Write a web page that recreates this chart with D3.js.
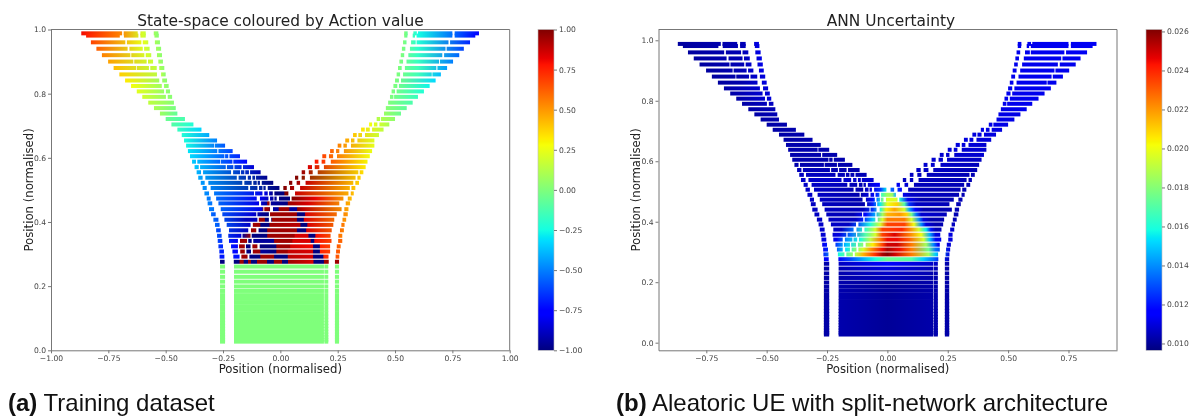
<!DOCTYPE html>
<html>
<head>
<meta charset="utf-8">
<title>State-space and ANN uncertainty</title>
<script src="https://d3js.org/d3.v7.min.js"></script>
<style>
  html, body { margin: 0; padding: 0; background: #fff; }
  svg { display: block; filter: blur(0.3px); }
  .tick text { font-family: "DejaVu Sans", sans-serif; font-size: 7.6px; fill: #444; }
  .tick line, .domain { stroke: #777; stroke-width: 1; }
  .label { font-family: "DejaVu Sans", sans-serif; font-size: 11.7px; fill: #222; text-anchor: middle; }
  .title { font-family: "DejaVu Sans", sans-serif; font-size: 15.4px; fill: #222; text-anchor: middle; }
  .caption { font-family: "Liberation Sans", sans-serif; font-size: 24px; fill: #111; }
  .marks { filter: blur(0.25px); }
</style>
</head>
<body>
<div id="chart"></div>

<script>

// rows of the state-space scatter, top to bottom
var rowY = [.988,.981,.960,.940,.920,.900,.880,.860,.841,.824,.807,.790,.772,.755,.738,.721,.704,.688,.671,.654,.638,.621,.605,.588,.571,.555,.538,.522,.506,.489,.473,.458,.44,.424,.407,.391,.374,.357,.341,.324,.308,.292,.276];

// runs of points in each row [from, to]
var rowSegments = [
  [[-.868,-.69],[-.683,-.622],[-.61,-.587],[-.552,-.532],[.54,.555],[.58,.595],[.60,.75],[.76,.866]],
  [[-.847,-.70],[-.682,-.619],[-.61,-.587],[-.549,-.53],[.54,.554],[.577,.587],[.594,.75],[.76,.85]],
  [[-.826,-.676],[-.669,-.606],[-.60,-.576],[-.547,-.525],[.535,.55],[.57,.59],[.594,.733],[.74,.827]],
  [[-.802,-.666],[-.658,-.60],[-.594,-.57],[-.542,-.52],[.53,.545],[.565,.72],[.725,.80]],
  [[-.778,-.654],[-.65,-.593],[-.587,-.563],[-.538,-.516],[.525,.54],[.558,.706],[.714,.78]],
  [[-.751,-.641],[-.637,-.583],[-.577,-.555],[-.532,-.512],[.519,.535],[.55,.692],[.696,.753]],
  [[-.727,-.629],[-.626,-.573],[-.567,-.539],[-.528,-.506],[.513,.529],[.543,.68],[.685,.727]],
  [[-.702,-.538],[-.52,-.50],[.507,.522],[.535,.66],[.663,.70]],
  [[-.677,-.528],[-.515,-.494],[.50,.517],[.526,.677]],
  [[-.651,-.517],[-.507,-.487],[.493,.51],[.517,.651]],
  [[-.626,-.507],[-.499,-.481],[.485,.50],[.507,.626]],
  [[-.602,-.499],[-.491,-.472],[.478,.493],[.496,.60]],
  [[-.576,-.464],[.47,.577]],
  [[-.551,-.456],[.46,.551]],
  [[-.525,-.449],[.452,.526]],
  [[-.50,-.416],[.42,.435],[.439,.50]],
  [[-.475,-.379],[.387,.40],[.408,.423],[.432,.475]],
  [[-.449,-.344],[.352,.368],[.373,.39],[.40,.45]],
  [[-.43,-.31],[.317,.333],[.34,.356],[.369,.43]],
  [[-.42,-.276],[.283,.30],[.308,.323],[.336,.41]],
  [[-.411,-.289],[-.286,-.241],[.25,.266],[.275,.29],[.308,.41]],
  [[-.403,-.275],[-.27,-.208],[.217,.233],[.243,.257],[.277,.40]],
  [[-.394,-.244],[-.241,-.227],[-.222,-.176],[.183,.20],[.212,.23],[.247,.39]],
  [[-.385,-.368],[-.362,-.263],[-.26,-.209],[-.205,-.145],[.15,.166],[.18,.196],[.22,.38]],
  [[-.374,-.356],[-.35,-.238],[-.233,-.205],[-.2,-.169],[-.163,-.115],[.12,.138],[.15,.17],[.19,.372]],
  [[-.365,-.346],[-.337,-.215],[-.206,-.176],[-.172,-.157],[-.153,-.137],[-.132,-.086],[.093,.108],[.124,.141],[.163,.34],[.346,.362]],
  [[-.358,-.339],[-.327,-.19],[-.182,-.15],[-.142,-.128],[-.122,-.11],[-.106,-.057],[.064,.078],[.093,.107],[.129,.328],[.336,.35]],
  [[-.347,-.33],[-.314,-.166],[-.157,-.125],[-.118,-.103],[-.099,-.089],[-.081,-.031],[.038,.052],[.071,.086],[.11,.318],[.327,.343]],
  [[-.339,-.321],[-.304,-.14],[-.132,-.10],[-.093,-.078],[-.074,-.064],[-.055,-.004],[.013,.028],[.042,.06],[.086,.303],[.31,.327]],
  [[-.331,-.311],[-.289,-.115],[-.11,-.078],[-.07,-.055],[-.049,-.033],[-.026,.035],[.064,.297],[.307,.32]],
  [[-.321,-.304],[-.28,-.103],[-.089,-.052],[-.045,-.03],[-.026,-.016],[-.006,.042],[.049,.275],[.294,.311]],
  [[-.317,-.297],[-.27,-.093],[-.084,-.047],[-.042,.257],[.285,.304]],
  [[-.311,-.289],[-.26,-.074],[-.07,-.045],[-.032,.267],[.279,.297]],
  [[-.302,-.282],[-.253,-.105],[-.10,-.05],[-.045,.246],[.275,.294]],
  [[-.292,-.27],[-.244,-.10],[-.094,-.05],[-.04,.235],[.271,.287]],
  [[-.285,-.265],[-.234,-.13],[-.12,.231],[.266,.28]],
  [[-.28,-.26],[-.224,-.14],[-.128,-.105],[-.095,.224],[.26,.277]],
  [[-.276,-.256],[-.227,-.17],[-.165,-.13],[-.125,.219],[.253,.27]],
  [[-.273,-.253],[-.224,-.185],[-.176,-.145],[-.14,-.125],[-.118,.223],[.252,.27]],
  [[-.27,-.25],[-.215,-.185],[-.18,-.155],[-.15,-.13],[-.122,-.1],[-.09,.217],[.246,.263]],
  [[-.266,-.246],[-.209,-.185],[-.175,-.155],[-.148,-.128],[-.12,.217],[.243,.26]],
  [[-.265,-.244],[-.205,-.178],[-.17,-.143],[-.135,.21],[.241,.257]],
  [[-.263,-.243],[-.203,.211],[.238,.256]]
];

// action value along each row [position, value]
var actionStops = [
  [[-.868,.8],[-.7,.55],[-.6,.2],[-.53,.02],[.54,0],[.6,-.25],[.76,-.55],[.866,-.78]],
  [[-.847,.76],[-.7,.55],[-.6,.2],[-.53,.02],[.54,0],[.6,-.25],[.76,-.55],[.85,-.74]],
  [[-.826,.68],[-.6,.25],[-.525,.03],[.535,0],[.6,-.22],[.827,-.68]],
  [[-.802,.62],[-.6,.22],[-.52,.03],[.53,0],[.6,-.2],[.8,-.62]],
  [[-.778,.55],[-.58,.2],[-.516,.03],[.525,0],[.6,-.18],[.78,-.55]],
  [[-.751,.48],[-.56,.18],[-.512,.03],[.519,0],[.6,-.17],[.753,-.5]],
  [[-.727,.42],[-.54,.15],[-.506,.03],[.513,0],[.6,-.15],[.727,-.44]],
  [[-.702,.38],[-.52,.13],[-.5,.02],[.507,0],[.6,-.15],[.7,-.38]],
  [[-.677,.32],[-.494,.03],[.5,0],[.677,-.32]],
  [[-.651,.27],[-.487,.03],[.493,0],[.651,-.27]],
  [[-.626,.23],[-.481,.02],[.485,0],[.626,-.22]],
  [[-.602,.19],[-.472,.02],[.478,0],[.6,-.17]],
  [[-.576,.15],[-.464,.02],[.47,0],[.577,-.12]],
  [[-.551,.1],[-.456,-.02],[.46,.02],[.551,-.08]],
  [[-.525,.07],[-.449,-.07],[.452,.06],[.526,-.05]],
  [[-.5,-.05],[-.416,-.13],[.42,.13],[.5,.04]],
  [[-.475,-.1],[-.379,-.22],[.387,.28],[.475,.1]],
  [[-.449,-.17],[-.344,-.33],[.352,.33],[.45,.15]],
  [[-.43,-.22],[-.31,-.42],[.317,.4],[.43,.18]],
  [[-.42,-.24],[-.276,-.5],[.283,.47],[.41,.22]],
  [[-.411,-.26],[-.241,-.58],[.25,.55],[.41,.24]],
  [[-.403,-.3],[-.208,-.62],[.217,.62],[.4,.25]],
  [[-.394,-.32],[-.176,-.68],[.183,.68],[.39,.27]],
  [[-.385,-.35],[-.145,-.75],[.15,.78],[.38,.3]],
  [[-.374,-.36],[-.115,-.85],[.12,.85],[.372,.32]],
  [[-.365,-.4],[-.084,-.92],[.093,.95],[.362,.35]],
  [[-.358,-.42],[-.057,-.97],[.064,1],[.35,.38]],
  [[-.347,-.45],[-.031,-1],[.038,1],[.11,.88],[.343,.38]],
  [[-.339,-.47],[-.004,-1],[.013,1],[.086,.88],[.327,.4]],
  [[-.331,-.47],[-.07,-.82],[-.026,-1],[.015,-1],[.02,1],[.035,1],[.064,.87],[.32,.42]],
  [[-.321,-.5],[-.09,-.8],[-.006,-1],[.042,-1],[.049,1],[.15,.82],[.311,.42]],
  [[-.317,-.5],[-.1,-.82],[-.06,-.95],[-.055,.95],[-.045,.95],[-.04,-.95],[.03,-1],[.035,.95],[.12,.85],[.304,.45]],
  [[-.311,-.5],[-.08,-.82],[-.074,.95],[-.052,.95],[-.032,-.95],[-.009,-.95],[-.006,.95],[.035,.95],[.042,-.95],[.071,-.95],[.075,.98],[.1,.9],[.297,.47]],
  [[-.302,-.55],[-.12,-.85],[-.08,-.97],[-.05,-1],[-.045,.95],[.07,.95],[.075,-1],[.105,-1],[.11,.85],[.294,.5]],
  [[-.292,-.55],[-.15,-.9],[-.1,-.9],[-.098,.95],[-.07,.95],[-.065,-1],[-.04,-1],[-.035,.95],[.07,.95],[.075,-1],[.1,-1],[.105,.85],[.287,.5]],
  [[-.285,-.55],[-.13,-.88],[-.12,.95],[-.09,.95],[-.085,-1],[-.05,-1],[-.045,.95],[.085,.9],[.09,-1],[.115,-1],[.12,.85],[.28,.55]],
  [[-.28,-.6],[-.14,-.9],[-.128,.95],[-.105,.95],[-.095,-1],[-.06,-1],[-.055,.95],[.07,.95],[.075,-1],[.11,-1],[.115,.85],[.277,.55]],
  [[-.276,-.6],[-.17,-.85],[-.165,-.95],[-.13,.95],[-.125,-1],[-.06,-1],[-.055,.95],[.06,.95],[.065,.85],[.12,.85],[.125,-1],[.15,-1],[.155,.8],[.27,.55]],
  [[-.273,-.62],[-.185,-.8],[-.176,.95],[-.145,.95],[-.14,-1],[-.118,-.95],[-.03,-.95],[-.025,.95],[.05,.95],[.055,.85],[.13,.85],[.135,-1],[.145,-1],[.15,.8],[.27,.6]],
  [[-.27,-.65],[-.185,-.75],[-.18,.95],[-.155,.95],[-.15,-1],[-.13,-1],[-.122,.95],[-.1,.95],[-.09,-1],[-.02,-1],[-.015,.95],[.04,.95],[.045,.85],[.14,.8],[.145,-1],[.17,-1],[.175,.75],[.263,.6]],
  [[-.266,-.68],[-.185,-.75],[-.175,.95],[-.155,.95],[-.148,-1],[-.128,-1],[-.12,.95],[-.09,.95],[-.085,-.95],[-.02,-1],[-.015,.95],[.03,.95],[.035,.88],[.14,.85],[.145,-1],[.17,-1],[.175,.75],[.26,.62]],
  [[-.265,-.7],[-.178,-.72],[-.17,.95],[-.143,.95],[-.135,-1],[-.09,-1],[-.085,.95],[-.03,.95],[-.025,-1],[.03,-1],[.035,.9],[.14,.85],[.145,-1],[.185,-1],[.19,.75],[.257,.62]],
  [[-.263,-1],[-.18,-1],[-.176,.95],[-.161,.95],[-.16,-1],[-.142,-1],[-.141,.95],[-.128,.95],[-.127,-1],[-.103,-1],[-.102,.95],[-.057,.95],[-.056,-1],[-.03,-1],[-.029,.95],[.006,.95],[.007,-1],[.032,-1],[.035,.95],[.144,.85],[.145,-1],[.188,-1],[.19,.95],[.256,.95]]
];

// network uncertainty along each row [position, value]
var uncertaintyStops = [
  [[-.868,.0101],[-.6,.0104],[-.53,.0111],[.54,.0112],[.866,.0113]],
  [[-.847,.0101],[-.6,.0104],[-.53,.0111],[.54,.0112],[.85,.0113]],
  [[-.826,.0101],[-.6,.0104],[-.525,.0111],[.535,.0112],[.827,.0113]],
  [[-.802,.0101],[-.6,.0104],[-.52,.0111],[.53,.0112],[.8,.0112]],
  [[-.778,.0101],[-.6,.0104],[-.516,.0111],[.525,.0112],[.78,.0112]],
  [[-.751,.0101],[-.6,.0104],[-.512,.0111],[.519,.0112],[.753,.0112]],
  [[-.727,.0101],[-.6,.0103],[-.506,.011],[.513,.0112],[.727,.0112]],
  [[-.702,.0101],[-.6,.0103],[-.5,.011],[.507,.0112],[.7,.0112]],
  [[-.677,.0102],[-.494,.0109],[.5,.0112],[.677,.0112]],
  [[-.651,.0102],[-.487,.0109],[.493,.0112],[.651,.0112]],
  [[-.626,.0102],[-.481,.0109],[.485,.0112],[.626,.0112]],
  [[-.602,.0102],[-.472,.0106],[.478,.0112],[.6,.0112]],
  [[-.576,.0102],[-.464,.0104],[.47,.0111],[.577,.0112]],
  [[-.551,.0102],[-.456,.0104],[.46,.0111],[.551,.0111]],
  [[-.525,.0102],[-.449,.0103],[.452,.0111],[.526,.0111]],
  [[-.5,.0102],[-.416,.0103],[.42,.0111],[.5,.0111]],
  [[-.475,.0102],[-.379,.0103],[.387,.0111],[.475,.011]],
  [[-.449,.0102],[-.344,.0103],[.352,.011],[.45,.011]],
  [[-.43,.0102],[-.31,.0103],[.317,.011],[.43,.0109]],
  [[-.42,.0103],[-.276,.0103],[.283,.011],[.41,.0108]],
  [[-.411,.0103],[-.241,.0103],[.25,.0109],[.41,.0108]],
  [[-.403,.0103],[-.208,.0103],[.217,.0108],[.4,.0108]],
  [[-.394,.0103],[-.176,.0103],[.183,.0108],[.39,.0106]],
  [[-.385,.0103],[-.145,.0103],[.15,.0108],[.38,.0105]],
  [[-.374,.0105],[-.115,.0103],[.12,.0107],[.372,.0104]],
  [[-.365,.0106],[-.084,.0104],[.093,.0106],[.362,.0104]],
  [[-.358,.0107],[-.057,.0108],[.064,.0106],[.35,.0104]],
  [[-.347,.0107],[-.1,.0104],[-.04,.0115],[.038,.0113],[.11,.0105],[.343,.0104]],
  [[-.339,.0107],[-.1,.0103],[-.06,.0112],[-.03,.0125],[-.004,.0155],[.013,.0135],[.028,.013],[.06,.0115],[.086,.0105],[.327,.0104]],
  [[-.331,.0107],[-.11,.0103],[-.05,.0118],[-.03,.0135],[-.026,.0165],[0,.0185],[.02,.0185],[.035,.0145],[.064,.0112],[.1,.0106],[.32,.0104]],
  [[-.321,.0107],[-.1,.0103],[-.06,.0118],[-.04,.014],[-.02,.0175],[0,.0198],[.04,.0195],[.05,.016],[.085,.0113],[.14,.0103],[.311,.0104]],
  [[-.317,.0106],[-.09,.0103],[-.06,.0122],[-.03,.0155],[0,.02],[.04,.021],[.07,.017],[.09,.0125],[.12,.0106],[.304,.0104]],
  [[-.311,.0106],[-.1,.0105],[-.06,.0125],[-.03,.016],[-.005,.0205],[.03,.0218],[.07,.0195],[.09,.0145],[.115,.0115],[.15,.0103],[.297,.0104]],
  [[-.302,.0106],[-.14,.0104],[-.09,.0118],[-.05,.0145],[-.02,.0185],[0,.0215],[.05,.022],[.08,.021],[.1,.0175],[.12,.0135],[.14,.0108],[.294,.0104]],
  [[-.292,.0106],[-.13,.0106],[-.1,.0122],[-.06,.015],[-.02,.0195],[0,.0225],[.07,.0225],[.1,.0195],[.13,.014],[.15,.011],[.18,.0103],[.287,.0104]],
  [[-.285,.0107],[-.16,.0106],[-.12,.013],[-.07,.016],[-.03,.0195],[0,.0235],[.07,.0235],[.11,.02],[.14,.014],[.16,.011],[.2,.0103],[.28,.0106]],
  [[-.28,.0108],[-.19,.0106],[-.14,.0135],[-.09,.0165],[-.05,.0195],[-.02,.0235],[.06,.024],[.09,.0225],[.13,.0195],[.16,.0155],[.18,.012],[.2,.0104],[.277,.0108]],
  [[-.276,.0108],[-.2,.011],[-.15,.0135],[-.09,.017],[-.05,.0195],[-.02,.0235],[.03,.0248],[.09,.0225],[.14,.02],[.175,.0145],[.2,.011],[.27,.011]],
  [[-.273,.011],[-.21,.0113],[-.17,.014],[-.11,.016],[-.07,.019],[-.03,.0225],[0,.0245],[.04,.0245],[.09,.023],[.15,.0195],[.175,.015],[.2,.0113],[.27,.011]],
  [[-.27,.0113],[-.215,.0125],[-.17,.015],[-.11,.0175],[-.06,.0205],[-.02,.0235],[0,.025],[.04,.025],[.1,.0225],[.16,.0185],[.19,.014],[.21,.0113],[.263,.0108]],
  [[-.266,.0118],[-.205,.0135],[-.17,.0155],[-.14,.0175],[-.1,.0195],[-.07,.022],[-.02,.0245],[0,.0255],[.05,.0245],[.1,.0225],[.17,.0175],[.2,.0135],[.26,.011]],
  [[-.265,.0123],[-.2,.016],[-.16,.0175],[-.13,.019],[-.1,.0215],[-.05,.0238],[-.02,.0255],[0,.026],[.03,.025],[.1,.0225],[.17,.0185],[.2,.015],[.257,.011]],
  [[-.263,.0116],[-.2,.0118],[-.15,.013],[-.1,.0145],[-.05,.016],[0,.0175],[.1,.017],[.15,.015],[.19,.0135],[.211,.0125],[.256,.0106]]
];

// solid block under the funnel
var blockY = [.261,.245,.229,.214,.199,.185,.172,.160,.148,.137,.126,.115,.105,.095,.085,.076,.067,.058,.049,.041,.033,.027];
var blockSegments = [[-.263,-.241],[-.202,.19],[.192,.209],[.238,.256]];
var blockAction = [[-.263,0],[.256,0]];
var blockUncertainty = [
  [[-.263,.0102],[-.2,.0106],[0,.0116],[.21,.0106],[.256,.0102]],
  [[-.263,.0102],[-.2,.0104],[0,.011],[.21,.0104],[.256,.0102]],
  [[-.263,.0102],[-.2,.0103],[0,.0107],[.21,.0103],[.256,.0102]],
  [[-.263,.0102],[-.2,.0103],[0,.0105],[.21,.0103],[.256,.0102]]
];
var blockUncertaintyLow = [[-.263,.0102],[-.2,.0103],[0,.01],[.21,.0103],[.256,.0102]];

// jet colour map
var jetStops = [0,.11,.125,.34,.35,.375,.64,.65,.66,.89,.91,1];
var jetColors = ["#00007f","#0000ff","#0000ff","#00dbff","#00e5f7","#14ffe2","#f7ff08","#f7f600","#ffec00","#ff1300","#e80000","#800000"];

// tick labels
var xTicksA = [-1,-.75,-.5,-.25,0,.25,.5,.75,1];
var yTicksA = [0,.2,.4,.6,.8,1];
var barTicksA = [-1,-.75,-.5,-.25,0,.25,.5,.75,1];
var xTicksB = [-.75,-.5,-.25,0,.25,.5,.75];
var yTicksB = [0,.2,.4,.6,.8,1];
var barTicksB = [.010,.012,.014,.016,.018,.020,.022,.024,.026];

var minus = function(s) { return s.replace("-", "\u2212"); };

var svg = d3.select("#chart").append("svg").attr("width",1190).attr("height",419);
var defs = svg.append("defs");

var panelA = {
  id:"a", left:51, right:509.7, top:29.5, bottom:350.3,
  xDomain:[-1,1], yDomain:[0,1], xTicks:xTicksA, yTicks:yTicksA,
  barLeft:538, barRight:554, barDomain:[-1,1], barTicks:barTicksA, barFormat:2,
  title:"State-space coloured by Action value", titleX:280.5, yLabelX:33, rowHeight:4
};
var panelB = {
  id:"b", left:658.5, right:1117, top:29.5, bottom:350.3,
  xDomain:[-.948,.951], yDomain:[-.0252,1.0357], xTicks:xTicksB, yTicks:yTicksB,
  barLeft:1146, barRight:1162, barDomain:[.00965,.0261], barTicks:barTicksB, barFormat:3,
  title:"ANN Uncertainty", titleX:891, yLabelX:640, rowHeight:4
};

function drawPanel(p, stopsOfRow, stopsOfBlock) {
  var x = d3.scaleLinear().domain(p.xDomain).range([p.left,p.right]);
  var y = d3.scaleLinear().domain(p.yDomain).range([p.bottom,p.top]);
  var bar = d3.scaleLinear().domain(p.barDomain).range([p.bottom,p.top]);
  var color = d3.scaleLinear()
    .domain(jetStops.map(function(s) { return p.barDomain[0] + s*(p.barDomain[1]-p.barDomain[0]); }))
    .range(jetColors);

  var rows = rowY.map(function(v,i) { return {y:v, segs:rowSegments[i], stops:stopsOfRow[i]}; });
  blockY.forEach(function(v,i) { rows.push({y:v, segs:blockSegments, stops:stopsOfBlock(i)}); });

  rows.forEach(function(r,i) {
    var g = defs.append("linearGradient").attr("id","row-"+p.id+"-"+i)
      .attr("gradientUnits","userSpaceOnUse")
      .attr("x1",p.left).attr("x2",p.right).attr("y1",0).attr("y2",0);
    g.selectAll("stop").data(r.stops).enter().append("stop")
      .attr("offset",function(s) { return (x(s[0])-p.left)/(p.right-p.left); })
      .attr("stop-color",function(s) { return color(s[1]); });
  });

  var marks = svg.append("g").attr("class","marks");
  rows.forEach(function(r,i) {
    marks.selectAll(null).data(r.segs).enter().append("rect")
      .attr("x",function(s) { return x(s[0]); })
      .attr("width",function(s) { return x(s[1])-x(s[0]); })
      .attr("y",y(r.y)-p.rowHeight/2)
      .attr("height",p.rowHeight)
      .attr("fill","url(#row-"+p.id+"-"+i+")");
  });

  // spines and ticks
  svg.append("g").attr("transform","translate(0,"+p.bottom+")")
    .call(d3.axisBottom(x).tickValues(p.xTicks).tickSizeInner(3).tickSizeOuter(0).tickPadding(2)
      .tickFormat(function(d) { return minus(d.toFixed(2)); }));
  svg.append("g").attr("transform","translate("+p.left+",0)")
    .call(d3.axisLeft(y).tickValues(p.yTicks).tickSizeInner(3).tickSizeOuter(0).tickPadding(2)
      .tickFormat(function(d) { return d.toFixed(1); }));
  svg.append("path").attr("fill","none").attr("stroke","#777")
    .attr("d","M"+p.left+" "+p.top+"H"+p.right+"V"+p.bottom);

  svg.append("text").attr("class","title").attr("x",p.titleX).attr("y",p.top-4).text(p.title);
  svg.append("text").attr("class","label").attr("x",(p.left+p.right)/2).attr("y",373).text("Position (normalised)");
  svg.append("text").attr("class","label")
    .attr("transform","translate("+p.yLabelX+","+(p.top+p.bottom)/2+") rotate(-90)")
    .text("Position (normalised)");

  // colour bar
  var grad = defs.append("linearGradient").attr("id","bar-"+p.id)
    .attr("x1",0).attr("x2",0).attr("y1",1).attr("y2",0);
  grad.selectAll("stop").data(jetStops).enter().append("stop")
    .attr("offset",function(s) { return s; })
    .attr("stop-color",function(s,i) { return jetColors[i]; });
  svg.append("rect").attr("x",p.barLeft).attr("y",p.top)
    .attr("width",p.barRight-p.barLeft).attr("height",p.bottom-p.top)
    .attr("fill","url(#bar-"+p.id+")").attr("stroke","#bbb").attr("stroke-width",.6);
  var barAxis = svg.append("g").attr("transform","translate("+p.barRight+",0)")
    .call(d3.axisRight(bar).tickValues(p.barTicks).tickSizeInner(3).tickSizeOuter(0).tickPadding(2)
      .tickFormat(function(d) { return minus(d.toFixed(p.barFormat)); }));
  barAxis.select(".domain").remove();
}

drawPanel(panelA, actionStops, function() { return blockAction; });
drawPanel(panelB, uncertaintyStops, function(i) { return blockUncertainty[i] || blockUncertaintyLow; });

var capA = svg.append("text").attr("class","caption").attr("x",8).attr("y",411);
capA.append("tspan").attr("font-weight","bold").text("(a)");
capA.append("tspan").text(" Training dataset");
var capB = svg.append("text").attr("class","caption").attr("x",616).attr("y",411);
capB.append("tspan").attr("font-weight","bold").text("(b)");
capB.append("tspan").text(" Aleatoric UE with split-network architecture");

</script>
</body>
</html>
